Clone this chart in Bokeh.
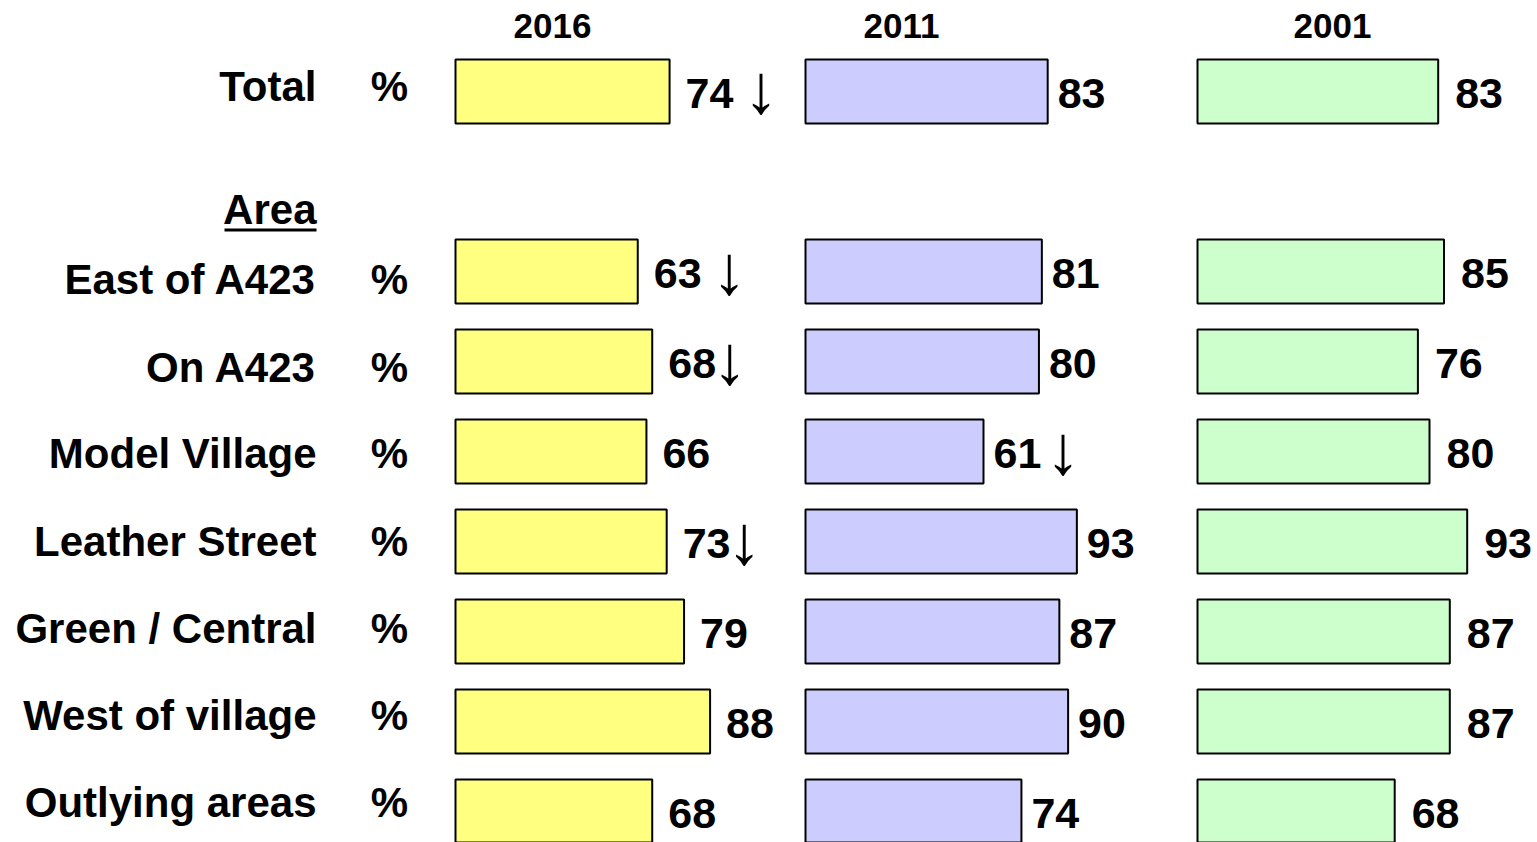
from bokeh.plotting import figure
from bokeh.models import ColumnDataSource, Range1d, Label
from bokeh.layouts import row
from bokeh.core.properties import value
from bokeh.embed import file_html
from bokeh.resources import INLINE

# ---- data ----
regions = ["Total", "East of A423", "On A423", "Model Village", "Leather Street",
           "Green / Central", "West of village", "Outlying areas"]
v2016 = [74, 63, 68, 66, 73, 79, 88, 68]
v2011 = [83, 81, 80, 61, 93, 87, 90, 74]
v2001 = [83, 85, 76, 80, 93, 87, 87, 68]
mark2016 = [" \u2193", " \u2193", "\u2193", "", "\u2193", "", "", ""]
mark2011 = ["", "", "", " \u2193", "", "", "", ""]
mark2001 = ["", "", "", "", "", "", "", ""]
years = ["2016", "2011", "2001"]
group_header = "Area"

# ---- layout / style ----
row_pos = [0, 2, 3, 4, 5, 6, 7, 8]
label_nudge = [-5, 8, 6, 2, 0, -3, -6, -9]
H = 842
Y_RANGE = (8.3444, -1.0111)
FONT_NAME = "Liberation Sans"
FONT = value(FONT_NAME)


def base_fig(width, xr):
    p = figure(width=width, height=H, x_range=Range1d(*xr), y_range=Range1d(*Y_RANGE),
               output_backend="svg", toolbar_location=None, min_border=0,
               x_axis_type=None, y_axis_type=None)
    p.grid.visible = False
    p.outline_line_color = None
    p.background_fill_color = "white"
    p.border_fill_color = "white"
    return p


def panel(vals, marks, color, width, scale, left_px, gap_px, header, header_x,
          arrow_spaced=74, arrow_tight=61):
    start = -left_px / scale
    end = start + width / scale
    p = base_fig(width, (start, end))
    src = ColumnDataSource(dict(y=row_pos, v=vals, lab=[str(v) for v in vals]))
    p.hbar(y="y", left=0, right="v", height=0.711, fill_color=color,
           line_color="black", line_width=2, source=src)
    p.text(x="v", y="y", text="lab", x_offset=gap_px, y_offset=2, source=src,
           text_font=FONT, text_font_style="bold", text_font_size="43px",
           text_baseline="middle", text_align="left", text_color="black")
    idx = [i for i, m in enumerate(marks) if m]
    if idx:
        asrc = ColumnDataSource(dict(
            y=[row_pos[i] for i in idx], v=[vals[i] for i in idx],
            a=[marks[i].strip() for i in idx],
            off=[(arrow_spaced if marks[i].startswith(" ") else arrow_tight) for i in idx]))
        p.text(x="v", y="y", text="a", x_offset="off", y_offset=-2, source=asrc,
               text_font=FONT, text_font_style="normal", text_font_size="70px",
               text_baseline="middle", text_align="left", text_color="black")
    p.add_layout(Label(x=header_x, y=-0.733, x_units="screen", y_units="data",
                       text=header, text_font=FONT_NAME, text_font_style="bold",
                       text_font_size="35px", text_align="center",
                       text_baseline="middle", text_color="black"))
    return p


# label column
lp = base_fig(440, (0, 440))
lsrc = ColumnDataSource(dict(y=row_pos, name=regions, pct=["%"] * len(regions),
                             nudge=label_nudge))
lp.text(x=316, y="y", text="name", y_offset="nudge", source=lsrc,
        text_font=FONT, text_font_style="bold", text_font_size="42px",
        text_baseline="middle", text_align="right", text_color="black")
lp.text(x=389, y="y", text="pct", y_offset="nudge", source=lsrc,
        text_font=FONT, text_font_style="bold", text_font_size="42px",
        text_baseline="middle", text_align="center", text_color="black")
lp.text(x=[316], y=[1.311], text=[group_header], text_font=FONT,
        text_font_style="bold", text_font_size="42px", text_baseline="middle",
        text_align="right", text_color="black")
lp.segment(x0=[224], y0=[1.539], x1=[316], y1=[1.539], line_color="black", line_width=3)

p1 = panel(v2016, mark2016, "#FFFF80", 350, 2.893, 15, 16, years[0], 112,
           arrow_spaced=74, arrow_tight=60)
p2 = panel(v2011, mark2011, "#CCCCFF", 390, 2.918, 15, 10, years[1], 111,
           arrow_spaced=62, arrow_tight=50)
p3 = panel(v2001, mark2001, "#CCFFCC", 357, 2.90, 17, 17, years[2], 152)

layout = row(lp, p1, p2, p3, spacing=0)
open("out.html", "w").write(file_html(layout, INLINE))
